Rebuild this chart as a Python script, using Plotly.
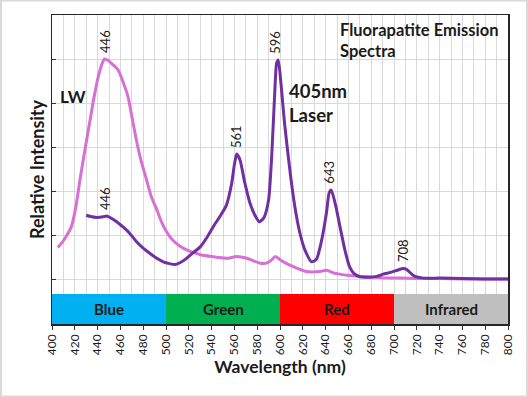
import plotly.graph_objects as go

# LW (long-wave UV) emission spectrum
lw_wl = [405, 407, 412, 417, 421, 424.5, 429, 433, 437, 440.6, 444, 446, 449, 453, 458, 462, 466.7, 470, 474, 478, 483, 487, 492, 496, 500.6, 506, 512, 520, 527, 530, 540, 553, 562, 571, 582.5, 588, 592, 596, 600, 603, 611.7, 623, 635, 641, 646.7, 661, 676, 690, 705, 720, 740, 760, 780, 800]
lw_val = [0.72, 0.77, 0.95, 1.19, 1.65, 2.25, 2.95, 3.55, 4.15, 4.6, 4.9, 5.0, 4.97, 4.88, 4.75, 4.5, 4.14, 3.7, 3.16, 2.7, 2.25, 1.88, 1.57, 1.3, 1.07, 0.88, 0.75, 0.64, 0.58, 0.55, 0.51, 0.47, 0.51, 0.47, 0.36, 0.36, 0.42, 0.51, 0.44, 0.39, 0.28, 0.17, 0.17, 0.2, 0.14, 0.08, 0.05, 0.03, 0.02, 0.01, 0.01, 0.0, 0.0, 0.0]

# 405nm laser emission spectrum
ls_wl = [430, 434, 439, 446, 448, 452, 456.7, 461, 465.5, 470, 474, 480, 486, 492, 497.6, 503, 508, 513, 518, 524, 530, 536, 541.5, 548, 553, 557.6, 560, 562, 565, 569, 573.7, 578, 582, 586, 590, 592.7, 595.5, 597, 598.5, 601, 604, 609, 613, 617.5, 622, 627.8, 632, 636.6, 641, 643, 645, 649, 652.6, 657, 661, 665, 670, 675, 679, 685, 690.6, 697, 703, 708, 711, 717, 726, 740, 760, 780, 800]
ls_val = [1.45, 1.42, 1.40, 1.42, 1.43, 1.38, 1.30, 1.21, 1.11, 0.98, 0.85, 0.70, 0.58, 0.47, 0.39, 0.35, 0.33, 0.38, 0.47, 0.60, 0.73, 0.95, 1.19, 1.45, 1.68, 2.17, 2.60, 2.84, 2.70, 2.20, 1.72, 1.45, 1.30, 1.40, 1.80, 2.78, 4.3, 4.9, 4.98, 4.4, 3.54, 2.40, 1.65, 1.04, 0.65, 0.39, 0.45, 0.89, 1.55, 1.95, 2.02, 1.65, 1.19, 0.65, 0.28, 0.12, 0.05, 0.04, 0.04, 0.06, 0.11, 0.15, 0.2, 0.24, 0.22, 0.08, 0.02, 0.02, 0.01, 0.0, 0.0]

# Peak labels
peak_wl = [446, 596, 561, 643, 708, 446]
peak_val = [5.0, 4.98, 2.84, 2.02, 0.24, 1.43]
peak_text = ["446", "596", "561", "643", "708", "446"]

# Colour bands
band_names = ["Blue", "Green", "Red", "Infrared"]
band_start = [400, 500, 600, 700]
band_end = [500, 600, 700, 800]
band_colors = ["#00b0f0", "#00b050", "#ff0000", "#bfbfbf"]

x_ticks = list(range(400, 801, 20))

PINK = "#d670d4"
PURPLE = "#7030a0"
FONT = "Lato"
TXT = "#1a1a1a"

fig = go.Figure()
fig.add_trace(go.Scatter(x=lw_wl, y=lw_val, mode="lines",
                         line=dict(color=PINK, width=3, shape="spline", smoothing=0.6),
                         hoverinfo="skip"))
fig.add_trace(go.Scatter(x=ls_wl, y=ls_val, mode="lines",
                         line=dict(color=PURPLE, width=3, shape="spline", smoothing=0.6),
                         hoverinfo="skip"))

shapes = []
for s, e, c in zip(band_start, band_end, band_colors):
    shapes.append(dict(type="rect", xref="x", yref="y", x0=s, x1=e, y0=-1.0227, y1=-0.341,
                       fillcolor=c, line=dict(width=0), layer="above"))
# outer chart frame
W, H = 456, 309
shapes.append(dict(type="rect", xref="paper", yref="paper",
                   x0=-52 / W + 0.002, x1=1 + 20 / W - 0.002,
                   y0=-73 / H + 0.002, y1=1 + 15 / H - 0.002,
                   line=dict(color="#d9d9d9", width=2)))

annotations = []
for nm, s, e in zip(band_names, band_start, band_end):
    annotations.append(dict(x=(s + e) / 2, y=-0.68, xref="x", yref="y", text="<b>" + nm + "</b>",
                            showarrow=False, font=dict(family=FONT, size=15, color=TXT),
                            xanchor="center", yanchor="middle"))
for w, v, t in zip(peak_wl, peak_val, peak_text):
    annotations.append(dict(x=w, y=v, xref="x", yref="y", text=t, textangle=-90,
                            showarrow=False, font=dict(family=FONT, size=13, color=TXT),
                            xanchor="center", yanchor="bottom", yshift=4))
annotations += [
    dict(x=(338 - 52) / W, y=1 - (18 - 15) / H, xref="paper", yref="paper",
         text="<b>Fluorapatite Emission<br>Spectra</b>", align="left", showarrow=False,
         font=dict(family=FONT, size=16.5, color=TXT), xanchor="left", yanchor="top"),
    dict(x=(58 - 52) / W, y=1 - (97 - 15) / H, xref="paper", yref="paper",
         text="<b>LW</b>", showarrow=False, font=dict(family=FONT, size=17, color=TXT),
         xanchor="left", yanchor="middle"),
    dict(x=(287 - 52) / W, y=1 - (103 - 15) / H, xref="paper", yref="paper",
         text="<b>405nm<br>Laser</b>", align="left", showarrow=False,
         font=dict(family=FONT, size=18.5, color=TXT), xanchor="left", yanchor="middle"),
]

fig.update_layout(
    width=528, height=397,
    margin=dict(l=52, r=20, t=15, b=73, autoexpand=False),
    paper_bgcolor="white", plot_bgcolor="white",
    showlegend=False,
    shapes=shapes,
    annotations=annotations,
    font=dict(family=FONT, color=TXT),
)
fig.update_xaxes(
    range=[400, 800], tickvals=x_ticks, ticktext=[str(v) for v in x_ticks],
    tickangle=-90, tickfont=dict(family=FONT, size=12, color=TXT),
    ticks="outside", ticklen=4, tickcolor="#333",
    showgrid=True, gridcolor="#d9d9d9", gridwidth=1,
    minor=dict(dtick=10, tick0=400, showgrid=True, gridcolor="#d9d9d9", gridwidth=1),
    showline=True, linecolor="#262626", linewidth=1.5, mirror=True,
    zeroline=False, automargin=False,
    title=dict(text="<b>Wavelength (nm)</b>", font=dict(family=FONT, size=17.5, color=TXT), standoff=6),
)
fig.update_yaxes(
    range=[-1.0227, 6], tickvals=[0, 1, 2, 3, 4, 5, 6], showticklabels=False,
    ticks="inside", ticklen=4, tickcolor="#333",
    showgrid=True, gridcolor="#d9d9d9", gridwidth=1,
    showline=True, linecolor="#262626", linewidth=1.5, mirror=True,
    zeroline=False, automargin=False,
    title=dict(text="<b>Relative Intensity</b>", font=dict(family=FONT, size=18, color=TXT), standoff=1),
)

fig.write_html("out.html",
               config={"displayModeBar": False, "staticPlot": True},
               post_script="document.body.style.margin='0';document.body.style.overflow='hidden';")
